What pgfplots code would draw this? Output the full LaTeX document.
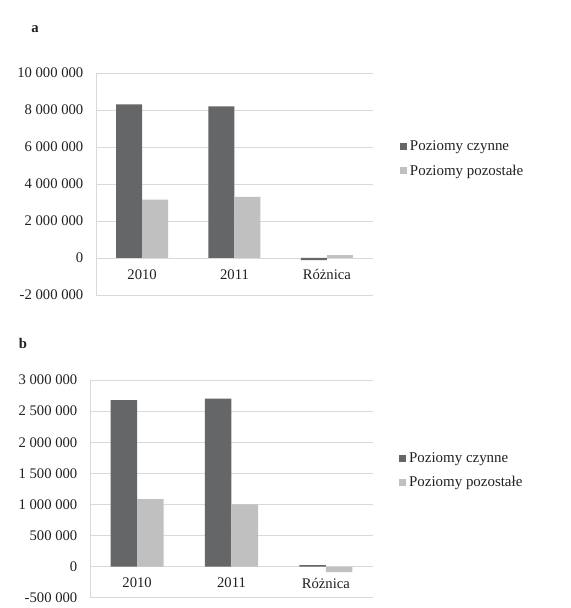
\documentclass[border=0pt]{standalone}
\usepackage{fontspec}
\setmainfont{Liberation Serif}
\usepackage{pgfplots}
\pgfplotsset{compat=1.18}
\definecolor{darkbar}{HTML}{646668}
\definecolor{lightbar}{HTML}{C0C0C0}
\definecolor{gridc}{HTML}{D9D9D9}
\definecolor{txt}{HTML}{202020}
\pgfplotsset{mystyle/.style={
  scale only axis,
  ybar=0pt,
  xmin=-0.5, xmax=2.5,
  xtick={0,1,2}, xticklabels={2010,2011,Różnica},
  axis x line=middle, axis y line=left,
  axis line style={draw=gridc,-},
  ymajorgrids, grid style={draw=gridc},
  major tick length=0pt,
  tick style={draw=none},
  scaled y ticks=false,
  hide obscured x ticks=false, hide obscured y ticks=false,
  tick label style={font=\fontsize{11}{13}\selectfont, text=txt},
  yticklabel style={xshift=-6pt},
  xticklabel style={yshift=-5pt},
  legend style={draw=none, fill=none, font=\fontsize{11.2}{13}\selectfont, text=txt, anchor=west, row sep=5pt, inner sep=0pt},
  legend cell align=left,
  legend image code/.code={\fill[##1] (0pt,-2.7pt) rectangle (5.4pt,2.7pt);},
  clip=false,
}}
\begin{document}
\begin{tikzpicture}
\useasboundingbox (0,0) rectangle (428.25pt,456pt);
\node[font=\bfseries\fontsize{11}{13}\selectfont, text=txt] at (26.25pt,434.25pt) {a};
\node[font=\bfseries\fontsize{11}{13}\selectfont, text=txt] at (17.25pt,198.75pt) {b};
\begin{axis}[mystyle,
  at={(72pt,234.75pt)}, anchor=south west,
  width=207.75pt, height=166.5pt,
  ymin=-2000000, ymax=10000000,
  ytick={-2000000,0,2000000,4000000,6000000,8000000,10000000},
  yticklabels={-2 000 000,0,2 000 000,4 000 000,6 000 000,8 000 000,10 000 000},
  bar width=19.5pt,
  legend style={at={(1.097,0.613)}},
]
\addplot[fill=darkbar, draw=none] coordinates {(0,8310000) (1,8200000) (2,-110000)};
\addplot[fill=lightbar, draw=none] coordinates {(0,3150000) (1,3310000) (2,160000)};
\legend{Poziomy czynne, Poziomy pozostałe}
\end{axis}
\begin{axis}[mystyle,
  at={(67.5pt,7.7pt)}, anchor=south west,
  width=212.25pt, height=163.3pt,
  ymin=-500000, ymax=3000000,
  ytick={-500000,0,500000,1000000,1500000,2000000,2500000,3000000},
  yticklabels={-500 000,0,500 000,1 000 000,1 500 000,2 000 000,2 500 000,3 000 000},
  bar width=19.9pt,
  legend style={at={(1.092,0.584)}},
]
\addplot[fill=darkbar, draw=none] coordinates {(0,2677000) (1,2700000) (2,23000)};
\addplot[fill=lightbar, draw=none] coordinates {(0,1087000) (1,1000000) (2,-87000)};
\legend{Poziomy czynne, Poziomy pozostałe}
\end{axis}
\end{tikzpicture}
\end{document}
